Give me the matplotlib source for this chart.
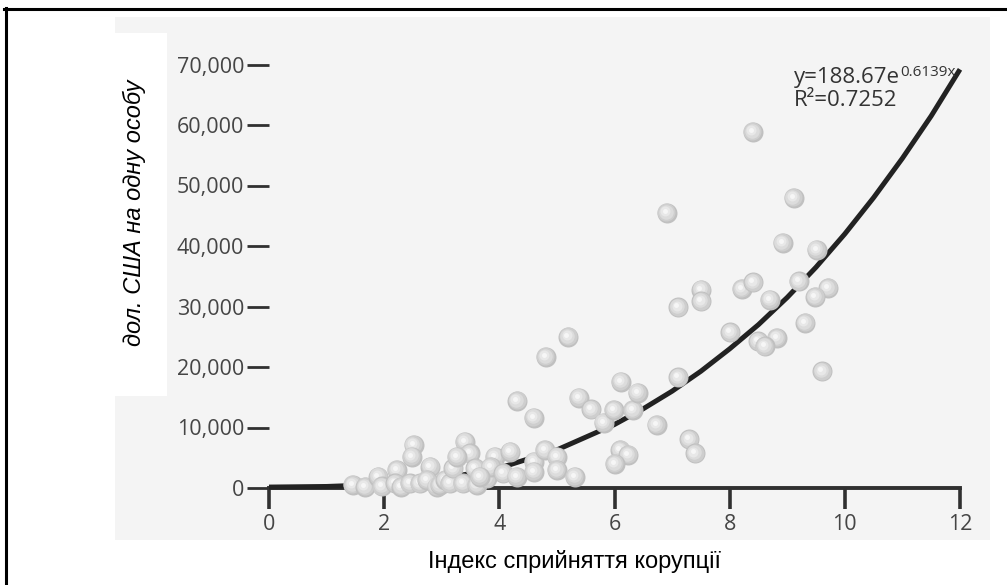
import matplotlib
matplotlib.use("Agg")
import matplotlib.pyplot as plt
import matplotlib.transforms as mtransforms
from matplotlib.patches import Rectangle
from matplotlib.lines import Line2D
from matplotlib.ticker import FuncFormatter

# ---------------- data ----------------
cpi = [1.46, 1.67, 1.90, 1.96, 2.22, 2.19, 2.30, 2.51, 2.48, 2.45,
       2.62, 2.80, 2.74, 2.91, 2.97, 3.06, 3.14, 3.20, 3.40, 3.49,
       3.26, 3.58, 3.37, 3.61, 3.92, 3.95, 3.78, 3.85, 3.66, 4.19,
       4.07, 4.30, 4.60, 4.60, 4.79, 5.00, 5.00, 5.31, 4.31, 4.60,
       4.81, 5.20, 5.38, 5.60, 5.81, 5.99, 6.11, 6.32, 6.40, 6.10,
       6.24, 6.01, 6.73, 6.91, 9.11, 8.92, 9.51, 7.51, 7.51, 7.11,
       8.21, 8.41, 9.20, 9.71, 9.49, 8.70, 8.01, 9.31, 8.50, 8.82,
       8.61, 9.61, 7.11, 7.30, 7.40, 8.40]
gdp = [500, 200, 1870, 300, 2980, 780, 200, 7120, 5180, 780,
       780, 3530, 1320, 220, 500, 1320, 780, 3260, 7670, 5740,
       5180, 3260, 780, 500, 5180, 2980, 1600, 3500, 1870, 6010,
       2430, 1870, 4350, 2700, 6290, 5180, 2980, 1870, 14400, 11640,
       21640, 24950, 14950, 13030, 10810, 12910, 17600, 12910, 15780, 6290,
       5460, 3970, 10430, 45480, 47960, 40510, 39400, 32780, 30850, 29850,
       32900, 34000, 34160, 33060, 31570, 31130, 25710, 27270, 24220, 24780,
       23400, 19260, 18320, 8060, 5740, 58890]

trend_x = [0, 1, 2, 3, 4, 5, 6, 6.5, 7, 7.5, 8, 8.5, 9, 9.5, 10, 10.5, 11, 11.5, 12]
trend_y = [150, 250, 600, 1500, 3300, 6300, 10500, 13100, 16000, 19300, 23000,
           27000, 31500, 36500, 42000, 48000, 54500, 61500, 69200]

x_ticks = [0, 2, 4, 6, 8, 10, 12]
y_ticks = [0, 10000, 20000, 30000, 40000, 50000, 60000, 70000]

x_label = "Індекс сприйняття корупції"
y_label = "дол. США на одну особу"
eq_main = "y=188.67e"
eq_sup = "0.6139x"
r2_text = "R²=0.7252"

# ---------------- figure ----------------
W, H = 1007, 585
fig = plt.figure(figsize=(W / 100, H / 100), dpi=100)
fig.patch.set_facecolor("white")

def fx(px):
    return px / W

def fy(py):
    return 1 - py / H

# gray panel and white label box
fig.add_artist(Rectangle((fx(115), fy(540)), fx(990) - fx(115), fy(17) - fy(540),
                         transform=fig.transFigure, facecolor="#f4f4f4",
                         edgecolor="none", zorder=0))
fig.add_artist(Rectangle((fx(115), fy(396)), fx(167) - fx(115), fy(33) - fy(396),
                         transform=fig.transFigure, facecolor="white",
                         edgecolor="none", zorder=0.5))
# outer frame (top and left)
fig.add_artist(Line2D([fx(4), 1.0], [fy(8.5), fy(8.5)], transform=fig.transFigure,
                      color="black", lw=2.2, zorder=1))
fig.add_artist(Line2D([fx(5.5), fx(5.5)], [fy(7.5), 0.0], transform=fig.transFigure,
                      color="black", lw=2.2, zorder=1))

ax = fig.add_axes([fx(269), fy(488), fx(960) - fx(269), fy(64.5) - fy(488)])
ax.patch.set_visible(False)
ax.set_xlim(0, 12)
ax.set_ylim(0, 70000)

for s in ["top", "right", "left"]:
    ax.spines[s].set_visible(False)
ax.spines["bottom"].set_color("#303030")
ax.spines["bottom"].set_linewidth(2.8)
ax.spines["bottom"].set_zorder(2)

ax.set_xticks(x_ticks)
ax.set_yticks(y_ticks)
ax.yaxis.set_major_formatter(FuncFormatter(lambda v, p: f"{int(v):,}"))
ax.tick_params(axis="x", direction="out", length=15, width=2.6, color="#303030",
               pad=4, labelcolor="#454545")
ax.tick_params(axis="y", direction="out", length=16, width=2.0, color="#303030",
               pad=2, labelcolor="#454545")
for lab in ax.get_xticklabels() + ax.get_yticklabels():
    lab.set_fontfamily(["Open Sans", "DejaVu Sans"])
    lab.set_fontsize(15.5)

# trend curve
ax.plot(trend_x, trend_y, color="#222222", lw=3.6, solid_capstyle="butt",
        solid_joinstyle="round", zorder=3, clip_on=False)

# shaded spheres
layers = [(20, 0.0, 0.0, "#c0c0c0"),
          (18, -0.6, 0.6, "#cecece"),
          (14.5, -1.2, 1.2, "#dcdcdc"),
          (10, -1.7, 1.6, "#e8e8e8"),
          (5, -2.0, 2.0, "#f6f6f6")]
trans = [mtransforms.offset_copy(ax.transData, fig=fig, x=dx, y=dy, units="dots")
         for (_, dx, dy, _) in layers]
for i, (xv, yv) in enumerate(zip(cpi, gdp)):
    for j, (d, dx, dy, col) in enumerate(layers):
        ax.scatter([xv], [yv], s=(d * 0.72) ** 2, c=col, linewidths=0,
                   transform=trans[j], zorder=10 + i * 0.01 + j * 0.001,
                   clip_on=False)

# equation text
eq_font = ["Open Sans", "DejaVu Sans"]
t1 = fig.text(fx(794), fy(83), eq_main, fontsize=16, color="#333333",
              family=eq_font, ha="left", va="baseline")
fig.canvas.draw()
bb = t1.get_window_extent()
fig.text(bb.x1 / W + 0.0005, fy(76), eq_sup, fontsize=11, color="#333333",
         family=eq_font, ha="left", va="baseline")
fig.text(fx(794), fy(106), r2_text, fontsize=16, color="#333333",
         family=eq_font, ha="left", va="baseline")

# axis labels
fig.text(fx(574), fy(568), x_label, fontsize=17, color="black",
         family=["Liberation Sans", "DejaVu Sans"], ha="center", va="baseline")
fig.text(fx(134), fy(212.5), y_label, fontsize=17, color="black", style="italic",
         rotation=90, family=["Liberation Sans", "DejaVu Sans"],
         ha="center", va="center")

fig.savefig("out.png", dpi=100)
